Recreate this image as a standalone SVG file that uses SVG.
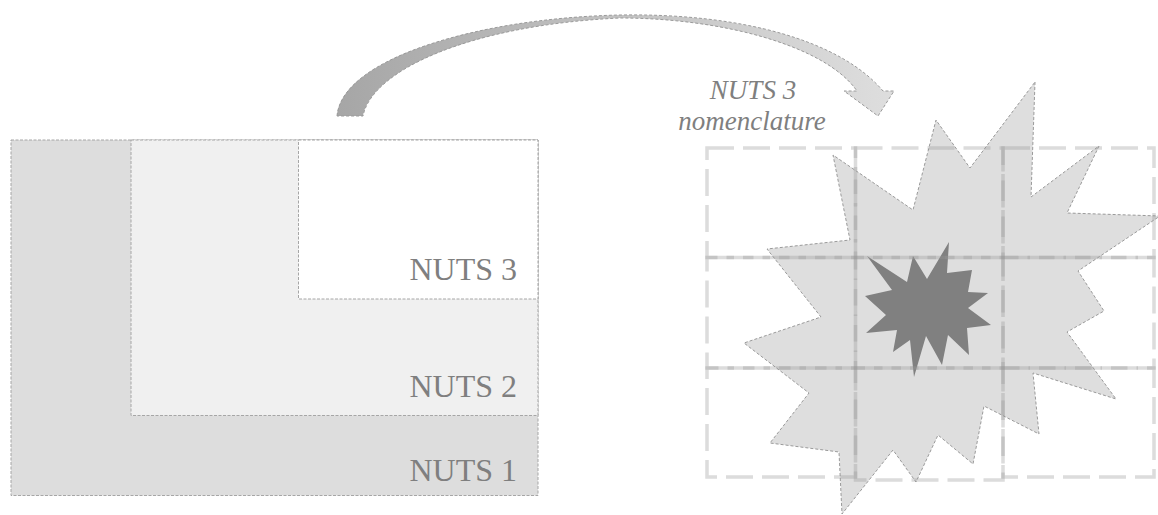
<svg xmlns="http://www.w3.org/2000/svg" width="1158" height="515" viewBox="0 0 1158 515">
<style>
.box{stroke:#a6a6a6;stroke-width:1;stroke-dasharray:3 1.5}
.lbl{font-family:"Liberation Serif",serif;font-size:32px;fill:#7f7f7f;text-anchor:end}
.ital{font-family:"Liberation Serif",serif;font-size:27px;font-style:italic;fill:#7f7f7f;text-anchor:middle}
.cell{fill:none;stroke:#959595;stroke-opacity:0.33;stroke-width:3.5;stroke-dasharray:27 9}
.star{stroke:#9a9a9a;stroke-width:1;stroke-dasharray:3 2}
</style>
<defs>
<linearGradient id="arrowGrad" gradientUnits="userSpaceOnUse" x1="337" y1="0" x2="894" y2="0">
<stop offset="0" stop-color="#a6a6a6"/>
<stop offset="1" stop-color="#dedede"/>
</linearGradient>
</defs>
<rect width="1158" height="515" fill="#ffffff"/>
<g id="nuts1">
<rect class="box" x="11" y="140" width="527" height="355.5" fill="#dddddd"/>
<text class="lbl" x="517" y="481">NUTS 1</text>
</g>
<g id="nuts2">
<rect class="box" x="131" y="140" width="407" height="275.5" fill="#f0f0f0"/>
<text class="lbl" x="517" y="396.5">NUTS 2</text>
</g>
<g id="nuts3">
<rect class="box" x="298.5" y="140" width="239.5" height="159" fill="#ffffff"/>
<text class="lbl" x="517" y="279.5">NUTS 3</text>
</g>
<g id="connectors">
<path d="M337,116 C342,58 480,18 620,15 C740,13 840,40 883,91 L894,91 L878,116 L844,91 L857,91 C825,45 720,18 620,18 C470,25 372,70 363,116 Z" fill="url(#arrowGrad)" stroke="#9a9a9a" stroke-width="1" stroke-dasharray="3 2"/>
</g>
<g id="label-nomenclature">
<text class="ital" x="753" y="99">NUTS 3</text>
<text class="ital" x="752" y="129.5">nomenclature</text>
</g>
<g id="big-star">
<polygon class="star" fill="#dedede" points="1035,82 1031,197 1099,146 1067,213 1160,216 1078,271 1104,311 1067,332 1116,399 1033,373 1039,434 984,406 973,464 938,435 916,482 893,450 842,514 839,452 770,443 809,393 744,343 821,317 767,249 850,240 833,155 913,210 936,120 970,168"/>
</g>
<g id="small-star">
<polygon fill="#808080" points="949,242 947,273 972,270 968,292 988,293 968,308 991,325 967,328 969,355 948,335 942,365 926,336 914,377 910,340 893,352 897,330 866,333 886,315 865,296 892,290 867,256 907,282 913,256 927,279"/>
</g>
<g id="grid">
<rect class="cell" x="707" y="148" width="148.5" height="109.5"/>
<rect class="cell" x="855.5" y="148" width="147.5" height="109.5"/>
<rect class="cell" x="1003" y="148" width="151" height="109.5"/>
<rect class="cell" x="707" y="257.5" width="148.5" height="110.5"/>
<rect class="cell" x="855.5" y="257.5" width="147.5" height="110.5"/>
<rect class="cell" x="1003" y="257.5" width="151" height="110.5"/>
<rect class="cell" x="707" y="368" width="148.5" height="109"/>
<rect class="cell" x="855.5" y="368" width="147.5" height="112"/>
<rect class="cell" x="1003" y="368" width="151" height="109"/>
</g>
</svg>
